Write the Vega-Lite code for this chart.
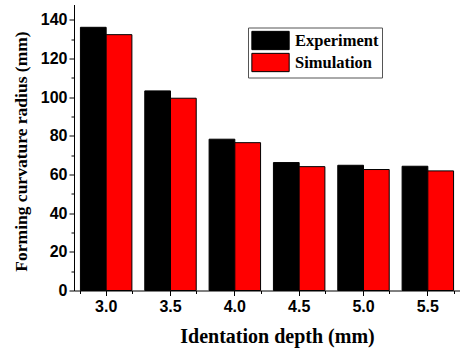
{
  "$schema": "https://vega.github.io/schema/vega-lite/v6.json",
  "autosize": "none",
  "width": 386,
  "height": 286,
  "padding": {"left": 74, "top": 4.5, "right": 0, "bottom": 60.5},
  "background": "white",
  "data": {
    "values": [
      {"depth": "3.0", "series": "Experiment", "value": 136.2},
      {"depth": "3.0", "series": "Simulation", "value": 132.4},
      {"depth": "3.5", "series": "Experiment", "value": 103.3},
      {"depth": "3.5", "series": "Simulation", "value": 99.5},
      {"depth": "4.0", "series": "Experiment", "value": 78.3},
      {"depth": "4.0", "series": "Simulation", "value": 76.5},
      {"depth": "4.5", "series": "Experiment", "value": 66.2},
      {"depth": "4.5", "series": "Simulation", "value": 64.1},
      {"depth": "5.0", "series": "Experiment", "value": 64.8},
      {"depth": "5.0", "series": "Simulation", "value": 62.6},
      {"depth": "5.5", "series": "Experiment", "value": 64.3},
      {"depth": "5.5", "series": "Simulation", "value": 61.9}
    ]
  },
  "config": {
    "view": {"stroke": null},
    "axis": {
      "domainColor": "black",
      "domainWidth": 1,
      "tickColor": "black",
      "tickWidth": 1,
      "grid": false,
      "labelFont": "Liberation Sans",
      "labelFontWeight": "bold",
      "labelFontSize": 16,
      "labelColor": "black",
      "titleFont": "Liberation Serif",
      "titleFontWeight": "bold",
      "titleColor": "black",
      "titleLimit": 1000
    }
  },
  "layer": [
    {
      "mark": {"type": "bar", "stroke": "black", "strokeWidth": 1},
      "encoding": {
        "x": {
          "field": "depth",
          "type": "ordinal",
          "scale": {"paddingInner": 0.2, "paddingOuter": 0.1},
          "axis": {
            "title": "Identation depth (mm)",
            "titleFontSize": 20,
            "titlePadding": 12,
            "titleX": 203,
            "titleAlign": "center",
            "labelAngle": 0,
            "tickSize": 5,
            "labelPadding": 3,
            "orient": "bottom"
          }
        },
        "y": {
          "field": "value",
          "type": "quantitative",
          "scale": {"domain": [0, 148], "nice": false},
          "axis": {
            "title": "Forming curvature radius (mm)",
            "titleFontSize": 17.5,
            "titlePadding": 10,
            "titleLimit": 1000,
            "titleY": 146.5,
            "titleAlign": "center",
            "values": [0, 20, 40, 60, 80, 100, 120, 140],
            "tickSize": 5,
            "labelPadding": 2,
            "orient": "left"
          }
        },
        "xOffset": {"field": "series", "type": "nominal", "scale": {"paddingInner": 0, "paddingOuter": 0}},
        "color": {
          "field": "series",
          "type": "nominal",
          "scale": {"domain": ["Experiment", "Simulation"], "range": ["#000000", "#ff0000"]},
          "legend": {
            "title": null,
            "orient": "none",
            "legendX": 174,
            "legendY": 23,
            "symbolType": "M-1,-1H3.08V1H-1Z",
            "symbolSize": 335,
            "symbolStrokeColor": "black",
            "symbolStrokeWidth": 1,
            "symbolOpacity": 1,
            "labelFont": "Liberation Serif",
            "labelFontWeight": "bold",
            "labelFontSize": 16.5,
            "labelColor": "black",
            "labelOffset": 24,
            "rowPadding": -2,
            "padding": 3,
            "strokeColor": "#555555",
            "fillColor": "white"
          }
        }
      }
    },
    {
      "mark": {"type": "bar", "opacity": 0},
      "encoding": {
        "x": {
          "field": "depth",
          "type": "ordinal",
          "axis": {
            "title": null,
            "labels": false,
            "domain": false,
            "tickSize": 3,
            "tickBand": "extent",
            "orient": "bottom"
          }
        },
        "y": {
          "field": "value",
          "type": "quantitative",
          "axis": {
            "title": null,
            "labels": false,
            "domain": false,
            "values": [10, 30, 50, 70, 90, 110, 130],
            "tickSize": 3,
            "orient": "left"
          }
        }
      }
    }
  ],
  "resolve": {"axis": {"x": "independent", "y": "independent"}}
}
